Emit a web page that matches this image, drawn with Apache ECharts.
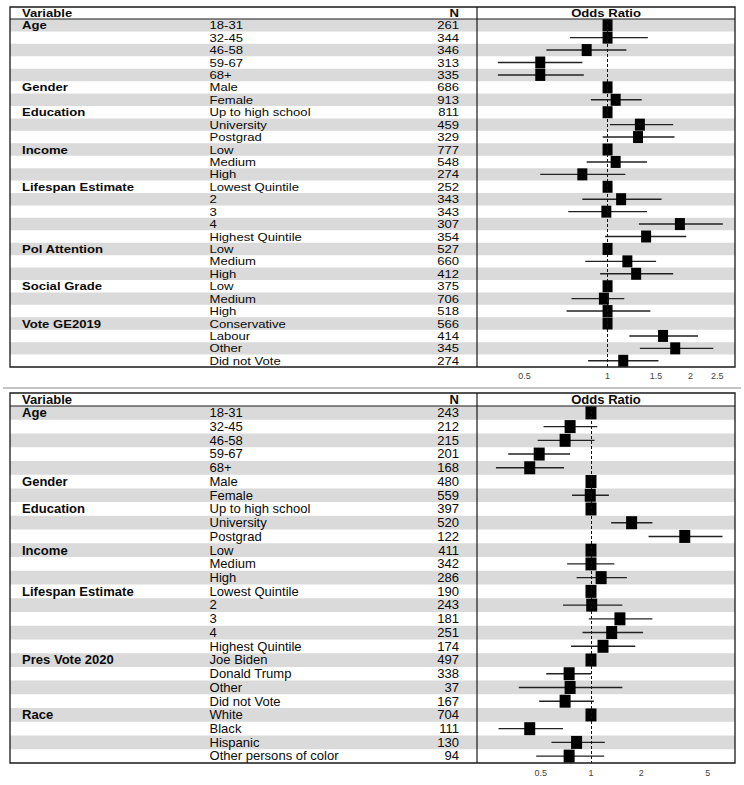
<!DOCTYPE html>
<html>
<head>
<meta charset="utf-8">
<script src="https://cdn.jsdelivr.net/npm/echarts@6/dist/echarts.min.js"></script>
<style>
html,body{margin:0;padding:0;background:#fff}
#main{width:744px;height:785px}
</style>
</head>
<body>
<div id="main"></div>
<script>
// ---- top panel ----
var topVars = ['Age','','','','','Gender','','Education','','','Income','','','Lifespan Estimate','','','','','Pol Attention','','','Social Grade','','','Vote GE2019','','',''];
var topLevels = ['18-31','32-45','46-58','59-67','68+','Male','Female','Up to high school','University','Postgrad','Low','Medium','High','Lowest Quintile','2','3','4','Highest Quintile','Low','Medium','High','Low','Medium','High','Conservative','Labour','Other','Did not Vote'];
var topN = [261,344,346,313,335,686,913,811,459,329,777,548,274,252,343,343,307,354,527,660,412,375,706,518,566,414,345,274];
var topOR = [1,1.0,0.84,0.57,0.57,1,1.07,1,1.31,1.29,1,1.07,0.81,1,1.12,0.99,1.83,1.38,1,1.18,1.27,1,0.97,1.0,1,1.59,1.76,1.14];
var topLo = [null,0.73,0.60,0.40,0.40,null,0.87,null,1.02,0.96,null,0.84,0.57,null,0.81,0.72,1.30,0.98,null,0.83,0.94,null,0.74,0.71,null,1.20,1.31,0.85];
var topHi = [null,1.40,1.17,0.81,0.82,null,1.33,null,1.73,1.75,null,1.39,1.16,null,1.57,1.39,2.62,1.93,null,1.50,1.73,null,1.15,1.43,null,2.13,2.42,1.53];
var topTicks = [0.5,1,1.5,2,2.5];

// ---- bottom panel ----
var botVars = ['Age','','','','','Gender','','Education','','','Income','','','Lifespan Estimate','','','','','Pres Vote 2020','','','','Race','','',''];
var botLevels = ['18-31','32-45','46-58','59-67','68+','Male','Female','Up to high school','University','Postgrad','Low','Medium','High','Lowest Quintile','2','3','4','Highest Quintile','Joe Biden','Donald Trump','Other','Did not Vote','White','Black','Hispanic','Other persons of color'];
var botN = [243,212,215,201,168,480,559,397,520,122,411,342,286,190,243,181,251,174,497,338,37,167,704,111,130,94];
var botOR = [1,0.75,0.70,0.49,0.43,1,0.99,1,1.75,3.64,1,1.0,1.15,1,1.01,1.49,1.33,1.18,1,0.74,0.75,0.70,1,0.43,0.82,0.74];
var botLo = [null,0.52,0.48,0.32,0.27,null,0.77,null,1.32,2.21,null,0.72,0.82,null,0.68,0.97,0.89,0.76,null,0.54,0.37,0.49,null,0.28,0.58,0.47];
var botHi = [null,1.09,1.05,0.75,0.69,null,1.28,null,2.33,6.12,null,1.38,1.64,null,1.54,2.33,2.05,1.84,null,1.0,1.54,1.04,null,0.68,1.21,1.20];
var botTicks = [0.5,1,2,5];

var FONT = '"Liberation Sans", Arial, sans-serif';
var chart = echarts.init(document.getElementById('main'), null, {renderer: 'svg'});

// layout of the two panels (pixels). fs = font size, sx = horizontal stretch so
// the text keeps the width seen in the picture while staying inside its row
var panels = [
  {top: 7, headH: 12, rowsH: 348, vars: topVars, levels: topLevels, n: topN, or: topOR, lo: topLo, hi: topHi,
   ticks: topTicks, xmin: 0.336, xmax: 2.90, sqW: 10, sqH: 12, labelMargin: 4, fs: 11, sx: 1.19},
  {top: 393, headH: 13, rowsH: 357, vars: botVars, levels: botLevels, n: botN, or: botOR, lo: botLo, hi: botHi,
   ticks: botTicks, xmin: 0.208, xmax: 7.27, sqW: 11, sqH: 13, labelMargin: 5, fs: 12.2, sx: 1.07}
];
var LEFT = 10, WIDTH = 725, DIV = 477;

var grid = [], xAxis = [], yAxis = [], series = [], graphic = [];

panels.forEach(function(p, pi){
  var rowsTop = p.top + p.headH;
  var rows = p.levels.map(function(_, i){ return i; });
  var gFull = pi * 2, gPlot = pi * 2 + 1;

  grid.push({left: LEFT, top: rowsTop, width: WIDTH, height: p.rowsH});
  grid.push({left: DIV, top: rowsTop, width: LEFT + WIDTH - DIV, height: p.rowsH});

  xAxis.push({gridIndex: gFull, type: 'value', min: 0, max: WIDTH, show: false});
  xAxis.push({
    gridIndex: gPlot, type: 'value',
    min: Math.log(p.xmin), max: Math.log(p.xmax),
    axisLine: {show: false}, axisTick: {show: false}, splitLine: {show: false},
    axisLabel: {
      customValues: p.ticks.map(function(t){ return Math.log(t); }),
      formatter: function(v){ return String(Math.round(Math.exp(v) * 10) / 10); },
      fontSize: 9, color: '#444', fontFamily: FONT, margin: p.labelMargin
    }
  });
  yAxis.push({gridIndex: gFull, type: 'category', data: rows, inverse: true, show: false});
  yAxis.push({gridIndex: gPlot, type: 'category', data: rows, inverse: true, show: false});

  // grey stripes on every other row, across the whole table
  series.push({
    type: 'custom', xAxisIndex: gFull, yAxisIndex: gFull, z: 1, silent: true,
    data: rows.map(function(i){ return [0, i]; }),
    encode: {x: 0, y: 1},
    renderItem: function(params, api){
      var i = api.value(1);
      if (i % 2 !== 0) return null;
      var a = api.coord([0, i]), b = api.coord([WIDTH, i]);
      var h = api.size([0, 1])[1];
      return {type: 'rect', shape: {x: a[0], y: a[1] - h / 2, width: b[0] - a[0], height: h},
              style: {fill: '#dadada'}};
    }
  });

  // text columns: variable, level, N
  series.push({
    type: 'custom', xAxisIndex: gFull, yAxisIndex: gFull, z: 2, silent: true,
    data: rows.map(function(i){ return [0, i]; }),
    encode: {x: 0, y: 1},
    renderItem: function(params, api){
      var i = api.value(1);
      var c1 = api.coord([12, i]), c2 = api.coord([199.5, i]), c3 = api.coord([449, i]);
      var mk = function(c, txt, bold, align){
        return {type: 'text', x: c[0], y: c[1] + 0.5, scaleX: p.sx, style: {
          text: txt, fill: '#0a0a0a', font: (bold ? 'bold ' : '') + p.fs + 'px ' + FONT,
          align: align, verticalAlign: 'middle', textAlign: align, textVerticalAlign: 'middle'}};
      };
      return {type: 'group', children: [
        mk(c1, p.vars[i], true, 'left'),
        mk(c2, p.levels[i], false, 'left'),
        mk(c3, String(p.n[i]), false, 'right')
      ]};
    }
  });

  // dashed reference line at OR = 1
  series.push({
    type: 'line', xAxisIndex: gPlot, yAxisIndex: gPlot, data: [], z: 3, silent: true,
    markLine: {symbol: ['none', 'none'], silent: true, label: {show: false},
      lineStyle: {color: '#111', width: 1, type: [3, 2]},
      data: [{xAxis: 0}]}
  });

  // CI whiskers and squares
  series.push({
    type: 'custom', xAxisIndex: gPlot, yAxisIndex: gPlot, z: 4, silent: true,
    data: rows.map(function(i){
      var o = p.or[i];
      var lo = p.lo[i] == null ? o : p.lo[i];
      var hi = p.hi[i] == null ? o : p.hi[i];
      return [Math.log(o), Math.log(lo), Math.log(hi), i];
    }),
    encode: {x: [0, 1, 2], y: 3},
    renderItem: function(params, api){
      var i = api.value(3);
      var c = api.coord([api.value(0), i]);
      var l = api.coord([api.value(1), i]);
      var h = api.coord([api.value(2), i]);
      var kids = [];
      if (h[0] - l[0] > 0.5) {
        kids.push({type: 'line', shape: {x1: l[0], y1: c[1], x2: h[0], y2: c[1]},
                   style: {stroke: '#222', lineWidth: 1.4}});
      }
      kids.push({type: 'rect', shape: {x: c[0] - p.sqW / 2, y: c[1] - p.sqH / 2, width: p.sqW, height: p.sqH},
                 style: {fill: '#000'}});
      return {type: 'group', children: kids};
    }
  });

  var boxH = p.headH + p.rowsH;
  // frame, header rule and column divider
  graphic.push({type: 'rect', z: 100, silent: true,
    shape: {x: LEFT, y: p.top, width: WIDTH, height: boxH},
    style: {fill: 'none', stroke: '#1a1a1a', lineWidth: 1.3}});
  graphic.push({type: 'line', z: 100, silent: true,
    shape: {x1: LEFT, y1: rowsTop, x2: LEFT + WIDTH, y2: rowsTop},
    style: {stroke: '#1a1a1a', lineWidth: 1.2}});
  graphic.push({type: 'line', z: 100, silent: true,
    shape: {x1: DIV, y1: p.top, x2: DIV, y2: p.top + boxH},
    style: {stroke: '#1a1a1a', lineWidth: 1.2}});

  // header texts
  var hy = p.top + p.headH / 2 + 0.5;
  var hdr = function(x, txt, align){
    graphic.push({type: 'text', z: 101, silent: true, x: x, y: hy, scaleX: p.sx,
      style: {text: txt, fill: '#0a0a0a', font: 'bold ' + p.fs + 'px ' + FONT,
              align: align, verticalAlign: 'middle', textAlign: align, textVerticalAlign: 'middle'}});
  };
  hdr(22, 'Variable', 'left');
  hdr(459, 'N', 'right');
  hdr((DIV + LEFT + WIDTH) / 2, 'Odds Ratio', 'center');
});

// grey separator between the two tables
graphic.push({type: 'line', z: 100, silent: true,
  shape: {x1: 3, y1: 388, x2: 741, y2: 388},
  style: {stroke: '#b0b0b0', lineWidth: 1.5}});

chart.setOption({
  animation: false,
  backgroundColor: '#fff',
  grid: grid,
  xAxis: xAxis,
  yAxis: yAxis,
  series: series,
  graphic: graphic
});
</script>
</body>
</html>
